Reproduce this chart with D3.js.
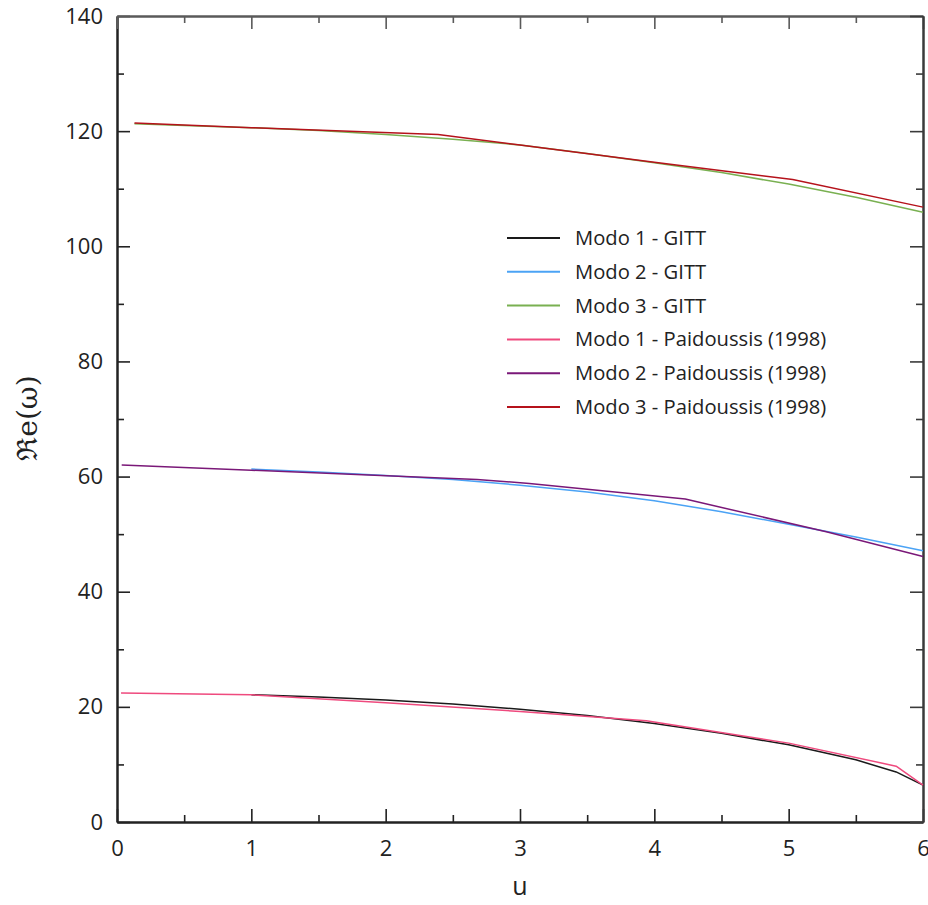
<!DOCTYPE html>
<html>
<head>
<meta charset="utf-8">
<script src="https://cdn.jsdelivr.net/npm/d3@7"></script>
<style>
  html, body { margin: 0; padding: 0; background: #fff; }
  svg { display: block; }
  .tick text { font-family: "Open Sans", sans-serif; }
</style>
</head>
<body>
<svg id="chart" width="928" height="905"></svg>
<script>
// Real part of the eigenfrequency vs. flow velocity u, first three modes
const xTicks = [0, 1, 2, 3, 4, 5, 6];
const yTicks = [0, 20, 40, 60, 80, 100, 120, 140];

// GITT solution
const gittMode1 = [[1.0, 22.1], [1.5, 21.7], [2.0, 21.2], [2.5, 20.5], [3.0, 19.6], [3.5, 18.5],
                   [4.0, 17.1], [4.5, 15.4], [5.0, 13.4], [5.5, 10.8], [5.8, 8.7], [6.0, 6.4]];
const gittMode2 = [[1.0, 61.3], [1.5, 60.8], [2.0, 60.2], [2.5, 59.5], [3.0, 58.5], [3.5, 57.3],
                   [4.0, 55.8], [4.5, 53.9], [5.0, 51.7], [5.5, 49.5], [6.0, 47.1]];
const gittMode3 = [[0.13, 121.3], [0.5, 121.0], [1.0, 120.6], [1.5, 120.1], [2.0, 119.4], [2.5, 118.6],
                   [3.0, 117.6], [3.5, 116.1], [4.0, 114.5], [4.5, 112.8], [5.0, 110.8], [5.5, 108.5], [6.0, 105.9]];

// Paidoussis (1998)
const paidMode1 = [[0.03, 22.4], [1.0, 22.1], [2.0, 20.7], [3.0, 19.2], [3.94, 17.6],
                   [5.0, 13.7], [5.8, 9.7], [6.0, 6.4]];
const paidMode2 = [[0.035, 62.0], [1.0, 61.1], [2.68, 59.5], [3.07, 58.8], [4.23, 56.1],
                   [5.28, 50.4], [6.0, 46.1]];
const paidMode3 = [[0.13, 121.4], [1.0, 120.6], [2.39, 119.4], [3.0, 117.6], [4.0, 114.6],
                   [5.03, 111.6], [6.0, 106.8]];

const seriesNames = ["Modo 1 - GITT", "Modo 2 - GITT", "Modo 3 - GITT",
                     "Modo 1 - Paidoussis (1998)", "Modo 2 - Paidoussis (1998)", "Modo 3 - Paidoussis (1998)"];
const seriesData = [gittMode1, gittMode2, gittMode3, paidMode1, paidMode2, paidMode3];
const seriesColors = ["#1a1a1a", "#4ba3f5", "#79b051", "#ef4a7e", "#7a1878", "#b5121b"];

const svg = d3.select("#chart");
const plotLeft = 117, plotRight = 923, plotTop = 16, plotBottom = 822;

const x = d3.scaleLinear().domain([0, 6]).range([plotLeft, plotRight]);
const y = d3.scaleLinear().domain([0, 140]).range([plotBottom, plotTop]);

const minorX = d3.range(0.5, 6, 1);
const minorY = d3.range(10, 140, 20);
const intFmt = d3.format("d");

function styleAxis(g, color) {
  g.select(".domain").attr("stroke", color).attr("stroke-width", 2);
  g.selectAll(".tick line").attr("stroke", color).attr("stroke-width", 1.6);
  g.selectAll(".tick text").attr("fill", "#222").attr("font-size", 22);
}

// bottom axis (labelled) + minor ticks
svg.append("g").attr("transform", `translate(0,${plotBottom})`)
  .call(d3.axisBottom(x).tickValues(xTicks).tickFormat(intFmt).tickSize(-13).tickSizeOuter(0).tickPadding(18))
  .call(g => styleAxis(g, "#222"));
svg.append("g").attr("transform", `translate(0,${plotBottom})`)
  .call(d3.axisBottom(x).tickValues(minorX).tickSize(-7).tickSizeOuter(0).tickFormat(""))
  .call(g => styleAxis(g, "#222"));

// left axis (labelled) + minor ticks
svg.append("g").attr("transform", `translate(${plotLeft},0)`)
  .call(d3.axisLeft(y).tickValues(yTicks).tickFormat(intFmt).tickSize(-13).tickSizeOuter(0).tickPadding(14))
  .call(g => styleAxis(g, "#222"));
svg.append("g").attr("transform", `translate(${plotLeft},0)`)
  .call(d3.axisLeft(y).tickValues(minorY).tickSize(-7).tickSizeOuter(0).tickFormat(""))
  .call(g => styleAxis(g, "#222"));

// top axis
svg.append("g").attr("transform", `translate(0,${plotTop})`)
  .call(d3.axisTop(x).tickValues(xTicks).tickSize(-13).tickSizeOuter(0).tickFormat(""))
  .call(g => styleAxis(g, "#5a5a5a"));
svg.append("g").attr("transform", `translate(0,${plotTop})`)
  .call(d3.axisTop(x).tickValues(minorX).tickSize(-7).tickSizeOuter(0).tickFormat(""))
  .call(g => styleAxis(g, "#5a5a5a"));

// right axis
svg.append("g").attr("transform", `translate(${plotRight},0)`)
  .call(d3.axisRight(y).tickValues(yTicks).tickSize(-13).tickSizeOuter(0).tickFormat(""))
  .call(g => styleAxis(g, "#3a3a3a"));
svg.append("g").attr("transform", `translate(${plotRight},0)`)
  .call(d3.axisRight(y).tickValues(minorY).tickSize(-7).tickSizeOuter(0).tickFormat(""))
  .call(g => styleAxis(g, "#3a3a3a"));

// curves
const line = d3.line().x(d => x(d[0])).y(d => y(d[1]));
seriesData.forEach((data, i) => {
  svg.append("path")
    .datum(data)
    .attr("fill", "none")
    .attr("stroke", seriesColors[i])
    .attr("stroke-width", 1.5)
    .attr("stroke-linejoin", "round")
    .attr("d", line);
});

// legend
const legend = svg.append("g").attr("transform", "translate(507,238)");
seriesNames.forEach((name, i) => {
  const row = legend.append("g").attr("transform", `translate(0,${i * 33.8})`);
  row.append("line").attr("x1", 0).attr("x2", 53).attr("y1", 0).attr("y2", 0)
    .attr("stroke", seriesColors[i]).attr("stroke-width", 2);
  row.append("text").attr("x", 68).attr("y", 0).attr("dy", "0.35em")
    .attr("font-family", "'Open Sans', sans-serif").attr("font-size", 20.2)
    .attr("fill", "#222").text(name);
});

// axis titles
svg.append("text")
  .attr("x", (plotLeft + plotRight) / 2).attr("y", 895)
  .attr("text-anchor", "middle")
  .attr("font-family", "'Open Sans', sans-serif").attr("font-size", 25)
  .attr("fill", "#222").text("u");

svg.append("text")
  .attr("transform", "translate(37,418) rotate(-90)")
  .attr("text-anchor", "middle")
  .attr("font-family", "'DejaVu Serif', 'Liberation Serif', serif").attr("font-size", 28)
  .attr("fill", "#222").text("ℜe(ω)");
</script>
</body>
</html>
